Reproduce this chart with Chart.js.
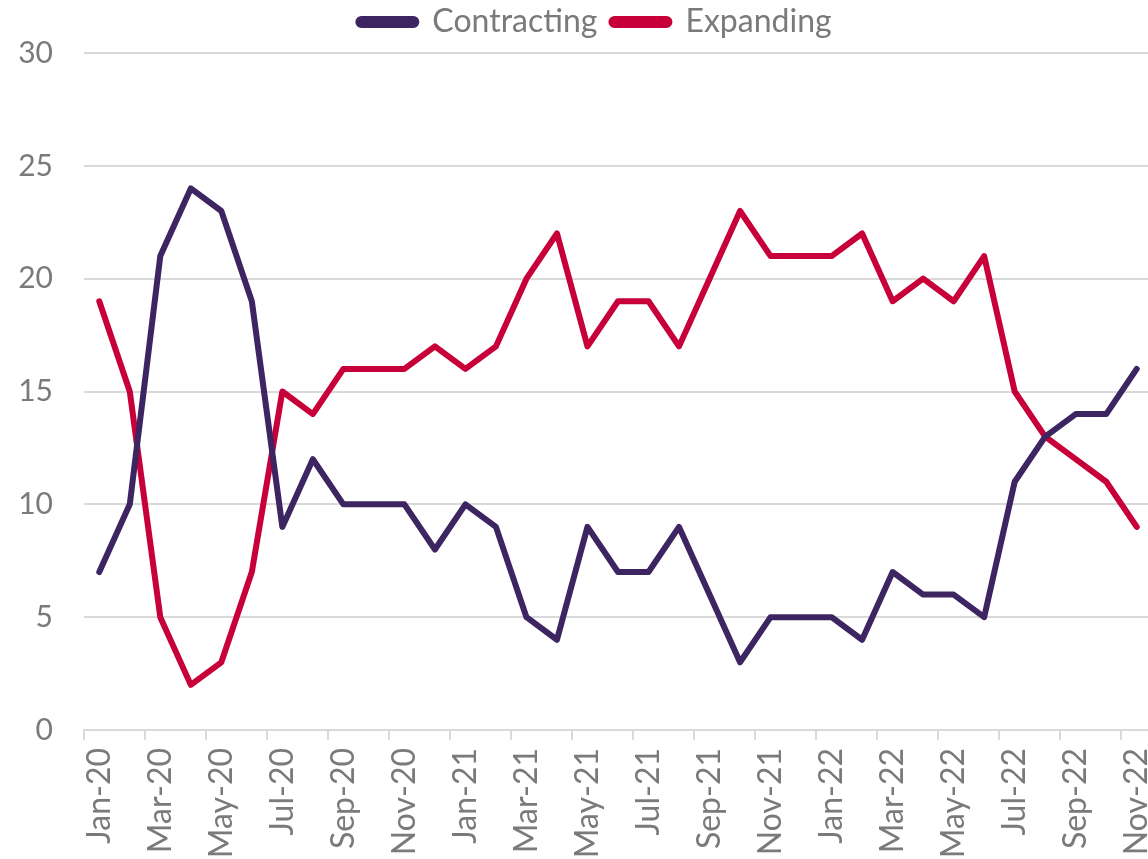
<!DOCTYPE html>
<html>
<head>
<meta charset="utf-8">
<script src="https://cdn.jsdelivr.net/npm/chart.js@4.4.1/dist/chart.umd.min.js"></script>
<style>
html,body{margin:0;padding:0;background:#fff;overflow:hidden;width:1148px;height:859px;}
#wrap{width:1152px;height:859px;}
</style>
</head>
<body>
<div id="wrap"><canvas id="c" width="1152" height="859"></canvas></div>
<script>
const months = ["Jan-20","Feb-20","Mar-20","Apr-20","May-20","Jun-20","Jul-20","Aug-20","Sep-20","Oct-20","Nov-20","Dec-20",
"Jan-21","Feb-21","Mar-21","Apr-21","May-21","Jun-21","Jul-21","Aug-21","Sep-21","Oct-21","Nov-21","Dec-21",
"Jan-22","Feb-22","Mar-22","Apr-22","May-22","Jun-22","Jul-22","Aug-22","Sep-22","Oct-22","Nov-22"];
const contracting = [7,10,21,24,23,19,9,12,10,10,10,8,10,9,5,4,9,7,7,9,6,3,5,5,5,4,7,6,6,5,11,13,14,14,16];
const expanding = [19,15,5,2,3,7,15,14,16,16,16,17,16,17,20,22,17,19,19,17,20,23,21,21,21,22,19,20,19,21,15,13,12,11,9];
const yTicks = {min:0, max:30, step:5};
const seriesNames = ["Contracting","Expanding"];

const FONT = "Lato";
const TXT = "#7a7a7a";
const GRID = "#d9d9d9";

const legendShift = {
  id: 'legendShift',
  afterLayout(chart) {
    const lg = chart.legend;
    if (lg) { lg.left += 19; lg.right += 19; lg.top -= 5; lg.bottom -= 5; }
  }
};

new Chart(document.getElementById('c'), {
  type: 'line',
  data: {
    labels: months,
    datasets: [
      {label: seriesNames[0], data: contracting, borderColor: '#3d2561', backgroundColor: '#3d2561'},
      {label: seriesNames[1], data: expanding, borderColor: '#c8003a', backgroundColor: '#c8003a'}
    ]
  },
  plugins: [legendShift],
  options: {
    responsive: false,
    animation: false,
    layout: {padding: {left: 0, right: 0, top: -3, bottom: 0}},
    elements: {
      line: {borderWidth: 6, tension: 0, borderJoinStyle: 'round', borderCapStyle: 'round', fill: false},
      point: {radius: 0, hoverRadius: 0}
    },
    plugins: {
      tooltip: {enabled: false},
      legend: {
        position: 'top',
        labels: {
          font: {family: FONT, size: 32},
          color: TXT,
          boxWidth: 58,
          boxHeight: 6,
          useBorderRadius: true,
          borderRadius: 3,
          padding: 14
        }
      }
    },
    scales: {
      x: {
        type: 'category',
        offset: true,
        grid: {
          offset: true, drawOnChartArea: false, drawTicks: true, tickLength: 10, lineWidth: 2,
          color: (ctx) => (ctx.index % 2 === 0 ? GRID : 'rgba(0,0,0,0)')
        },
        border: {display: true, color: GRID, width: 2},
        ticks: {
          autoSkip: false, maxRotation: 90, minRotation: 90,
          font: {family: FONT, size: 32}, color: TXT, padding: 8,
          callback: function(v, i){ return i % 2 === 0 ? this.getLabelForValue(v) : ''; }
        },
        afterFit: (a) => { a.height = 129; a.paddingRight = 0; a.paddingLeft = 0; }
      },
      y: {
        min: yTicks.min, max: yTicks.max,
        ticks: {stepSize: yTicks.step, font: {family: FONT, size: 30}, color: TXT, padding: 31},
        grid: {color: GRID, lineWidth: 2, drawTicks: false},
        border: {display: false},
        afterFit: (a) => { a.width = 84; }
      }
    }
  }
});
</script>
</body>
</html>
